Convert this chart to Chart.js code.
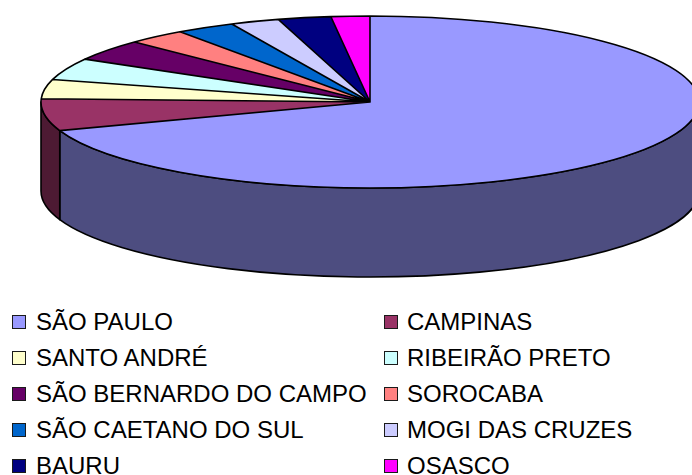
<!DOCTYPE html>
<html>
<head>
<meta charset="utf-8">
<script src="https://cdn.jsdelivr.net/npm/chart.js@4"></script>
<style>
  html, body { margin: 0; padding: 0; background: #fff; overflow: hidden; }
  #wrap { position: relative; width: 692px; height: 475px; }
  #pieChart { position: absolute; left: 0; top: 0; }
  .item { position: absolute; height: 30px; display: flex; align-items: center;
          font-family: "Liberation Sans", Arial, sans-serif; font-size: 24px; color: #000; white-space: nowrap; }
  .box { position: absolute; width: 14px; height: 14px; box-sizing: border-box; border: 1.5px solid #1a1a1a; }
</style>
</head>
<body>
<div id="wrap">
  <canvas id="pieChart" width="692" height="300"></canvas>
  <div id="legend"></div>
</div>
<script>
const cities = ['SÃO PAULO', 'CAMPINAS', 'SANTO ANDRÉ', 'RIBEIRÃO PRETO', 'SÃO BERNARDO DO CAMPO',
                'SOROCABA', 'SÃO CAETANO DO SUL', 'MOGI DAS CRUZES', 'BAURU', 'OSASCO'];
const shares = [696, 60, 36, 41, 40, 29, 29, 24, 26, 19];
const colors = ['#9999FF', '#993366', '#FFFFCC', '#CCFFFF', '#660066',
                '#FF8080', '#0066CC', '#CCCCFF', '#000080', '#FF00FF'];

// ellipse of the top face and thickness of the disc
const CX = 370, CY = 102, RX = 329, RY = 86, DEPTH = 89;

function shade(hex) {
  const n = parseInt(hex.slice(1), 16);
  const r = (n >> 16) & 255, g = (n >> 8) & 255, b = n & 255;
  return 'rgb(' + Math.round(r / 2) + ',' + Math.round(g / 2) + ',' + Math.round(b / 2) + ')';
}

// draws the side wall, then squashes the library's pie into an ellipse
const pie3d = {
  id: 'pie3d',
  beforeDatasetsDraw(chart) {
    const ctx = chart.ctx;
    const arcs = chart.getDatasetMeta(0).data;
    arcs.forEach((arc, i) => {
      const a = Math.max(arc.startAngle, 0);
      const b = Math.min(arc.endAngle, Math.PI);
      if (b <= a) return;
      ctx.beginPath();
      ctx.ellipse(CX, CY, RX, RY, 0, a, b);
      ctx.lineTo(CX + RX * Math.cos(b), CY + RY * Math.sin(b) + DEPTH);
      ctx.ellipse(CX, CY + DEPTH, RX, RY, 0, b, a, true);
      ctx.closePath();
      ctx.fillStyle = shade(colors[i]);
      ctx.fill();
      ctx.lineWidth = 1.6;
      ctx.strokeStyle = '#000';
      ctx.lineJoin = 'round';
      ctx.stroke();
    });
    const r = arcs[0].outerRadius;
    ctx.save();
    ctx.translate(CX, CY);
    ctx.scale(RX / r, RY / r);
    ctx.translate(-arcs[0].x, -arcs[0].y);
  },
  afterDatasetsDraw(chart) {
    const ctx = chart.ctx;
    const arcs = chart.getDatasetMeta(0).data;
    ctx.beginPath();
    arcs.forEach(arc => {
      ctx.moveTo(arc.x, arc.y);
      ctx.arc(arc.x, arc.y, arc.outerRadius, arc.startAngle, arc.endAngle);
      ctx.closePath();
    });
    ctx.restore();
    ctx.lineWidth = 1.6;
    ctx.strokeStyle = '#000';
    ctx.lineJoin = 'round';
    ctx.stroke();
  }
};

new Chart(document.getElementById('pieChart').getContext('2d'), {
  type: 'pie',
  data: {
    labels: cities,
    datasets: [{
      data: shares,
      backgroundColor: colors,
      borderWidth: 0,
      clip: false
    }]
  },
  options: {
    responsive: false,
    animation: false,
    events: [],
    plugins: {
      legend: { display: false },
      tooltip: { enabled: false }
    }
  },
  plugins: [pie3d]
});

// legend in two columns, Excel style
const legend = document.getElementById('legend');
cities.forEach((name, i) => {
  const col = i % 2, row = Math.floor(i / 2);
  const cy = 322 + row * 36;
  const box = document.createElement('div');
  box.className = 'box';
  box.style.left = (col ? 384 : 12) + 'px';
  box.style.top = (cy - 7) + 'px';
  box.style.background = colors[i];
  legend.appendChild(box);
  const item = document.createElement('div');
  item.className = 'item';
  item.style.left = (col ? 407 : 36) + 'px';
  item.style.top = (cy - 15) + 'px';
  item.textContent = name;
  legend.appendChild(item);
});
</script>
</body>
</html>
